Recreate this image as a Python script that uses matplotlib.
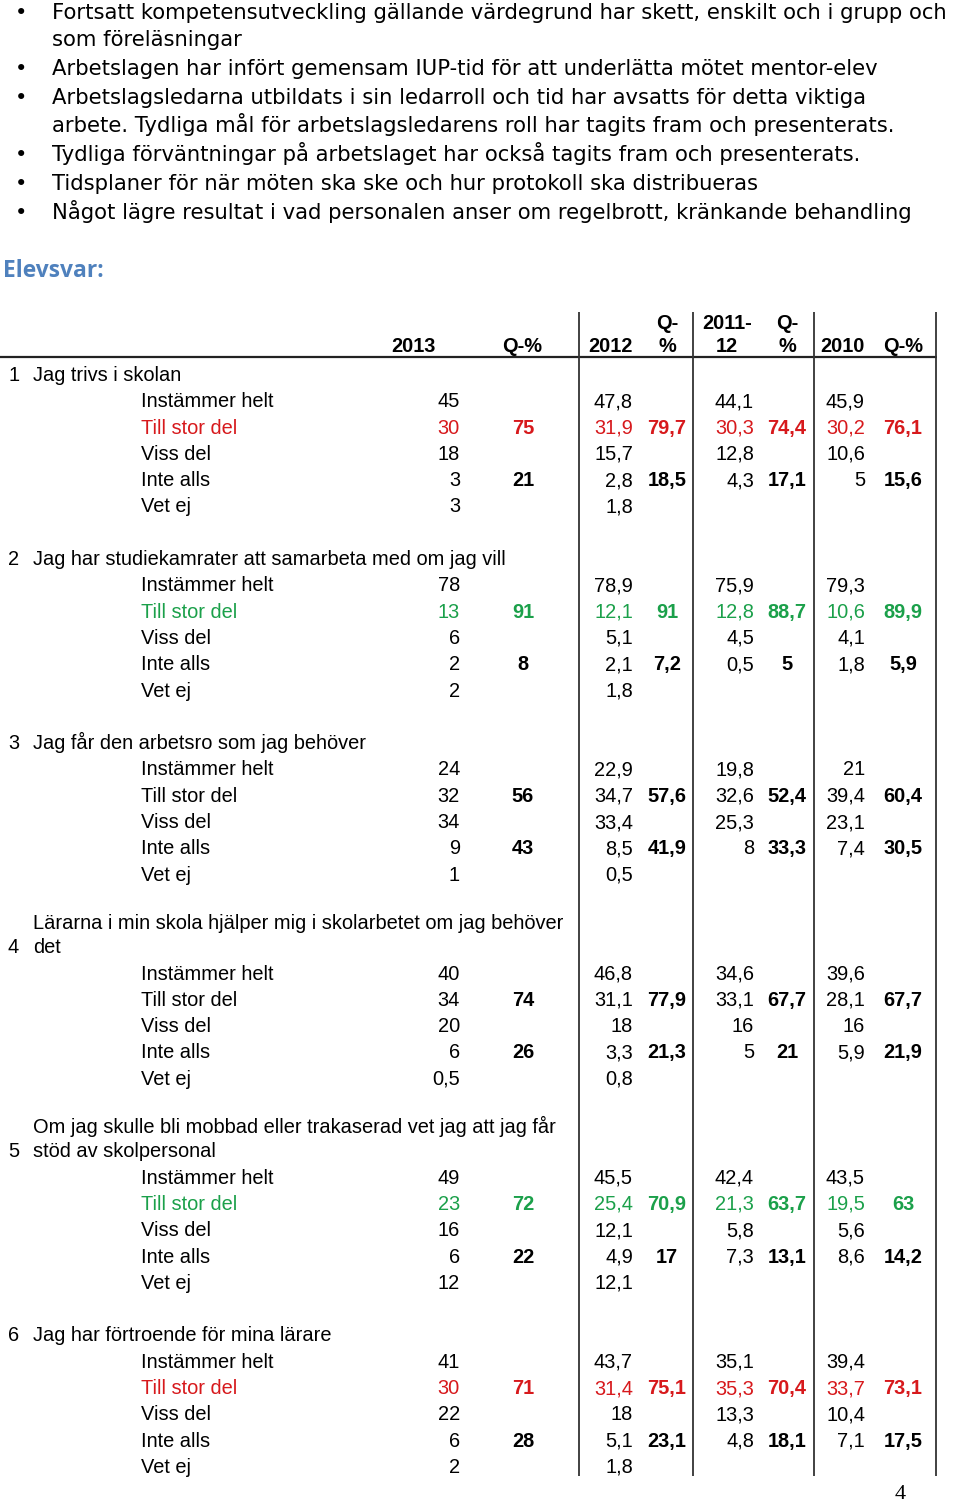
import matplotlib
matplotlib.use("Agg")
import matplotlib.pyplot as plt

# ---------------- data ----------------
bullets = [
    ["Fortsatt kompetensutveckling gällande värdegrund har skett, enskilt och i grupp och",
     "som föreläsningar"],
    ["Arbetslagen har infört gemensam IUP-tid för att underlätta mötet mentor-elev"],
    ["Arbetslagsledarna utbildats i sin ledarroll och tid har avsatts för detta viktiga",
     "arbete. Tydliga mål för arbetslagsledarens roll har tagits fram och presenterats."],
    ["Tydliga förväntningar på arbetslaget har också tagits fram och presenterats."],
    ["Tidsplaner för när möten ska ske och hur protokoll ska distribueras"],
    ["Något lägre resultat i vad personalen anser om regelbrott, kränkande behandling"],
]
section_title = "Elevsvar:"

header_line1 = ["", "", "", "Q-", "2011-", "Q-", "", ""]
header_line2 = ["2013", "Q-%", "2012", "%", "12", "%", "2010", "Q-%"]

answer_labels = ["Instämmer helt", "Till stor del", "Viss del", "Inte alls", "Vet ej"]

questions = [
    ["Jag trivs i skolan"],
    ["Jag har studiekamrater att samarbeta med om jag vill"],
    ["Jag får den arbetsro som jag behöver"],
    ["Lärarna i min skola hjälper mig i skolarbetet om jag behöver", "det"],
    ["Om jag skulle bli mobbad eller trakaserad vet jag att jag får", "stöd av skolpersonal"],
    ["Jag har förtroende för mina lärare"],
]
highlight = ["red", "green", None, None, "green", "red"]

v2013 = [[45, 30, 18, 3, 3], [78, 13, 6, 2, 2], [24, 32, 34, 9, 1],
         [40, 34, 20, 6, 0.5], [49, 23, 16, 6, 12], [41, 30, 22, 6, 2]]
q2013 = [[75, 21], [91, 8], [56, 43], [74, 26], [72, 22], [71, 28]]
v2012 = [[47.8, 31.9, 15.7, 2.8, 1.8], [78.9, 12.1, 5.1, 2.1, 1.8],
         [22.9, 34.7, 33.4, 8.5, 0.5], [46.8, 31.1, 18, 3.3, 0.8],
         [45.5, 25.4, 12.1, 4.9, 12.1], [43.7, 31.4, 18, 5.1, 1.8]]
q2012 = [[79.7, 18.5], [91, 7.2], [57.6, 41.9], [77.9, 21.3], [70.9, 17], [75.1, 23.1]]
v2011 = [[44.1, 30.3, 12.8, 4.3, None], [75.9, 12.8, 4.5, 0.5, None],
         [19.8, 32.6, 25.3, 8, None], [34.6, 33.1, 16, 5, None],
         [42.4, 21.3, 5.8, 7.3, None], [35.1, 35.3, 13.3, 4.8, None]]
q2011 = [[74.4, 17.1], [88.7, 5], [52.4, 33.3], [67.7, 21], [63.7, 13.1], [70.4, 18.1]]
v2010 = [[45.9, 30.2, 10.6, 5, None], [79.3, 10.6, 4.1, 1.8, None],
         [21, 39.4, 23.1, 7.4, None], [39.6, 28.1, 16, 5.9, None],
         [43.5, 19.5, 5.6, 8.6, None], [39.4, 33.7, 10.4, 7.1, None]]
q2010 = [[76.1, 15.6], [89.9, 5.9], [60.4, 30.5], [67.7, 21.9], [63, 14.2], [73.1, 17.5]]
page_number = "4"

# ---------------- styling / layout ----------------
W, H = 960, 1503
DPI = 100
RED = "#d7191c"
GREEN = "#1ba04a"
BLUE = "#4f81bd"
colors = {"red": RED, "green": GREEN, None: "black"}
TABLE_FONT = "Liberation Sans"
TFS = 14.4  # 20 px
BODY_FONT = "DejaVu Sans"
BFS = 15.2


def fmt(v):
    if v is None:
        return ""
    return f"{v:g}".replace(".", ",")


fig = plt.figure(figsize=(W / DPI, H / DPI), dpi=DPI)
ax = fig.add_axes([0, 0, 1, 1])
ax.set_xlim(0, W)
ax.set_ylim(H, 0)
ax.axis("off")

bullet_y = [12, 39, 68, 97, 125, 154, 183, 212]
k = 0
for item in bullets:
    for j, line in enumerate(item):
        y = bullet_y[k] + 7
        if j == 0:
            ax.text(15, y, "•", fontsize=BFS, family=BODY_FONT, va="baseline")
        ax.text(52, y, line, fontsize=BFS, family=BODY_FONT, va="baseline")
        k += 1

ax.text(3, 277, section_title, fontsize=16.4, family="Open Sans", weight="bold",
        color=BLUE, va="baseline")

# table header
hdr_x = [413, 522, 610, 667, 727, 787, 842, 903]
for x, l1, l2 in zip(hdr_x, header_line1, header_line2):
    if l1:
        ax.text(x, 329, l1, fontsize=TFS, family=TABLE_FONT, weight="bold",
                ha="center", va="baseline")
    ax.text(x, 352, l2, fontsize=TFS, family=TABLE_FONT, weight="bold",
            ha="center", va="baseline")

# grid lines
ax.plot([0, 937], [357, 357], color="#222222", lw=1.6, solid_capstyle="butt")
for x in [579, 693, 814, 936]:
    ax.plot([x, x], [312, 1476], color="#333333", lw=1.3, solid_capstyle="butt")

# table body
val_cols = [(v2013, 460), (v2012, 633), (v2011, 754), (v2010, 865)]
q_cols = [(q2013, 523), (q2012, 667), (q2011, 787), (q2010, 903)]
ROW = 26.3
y = 374.0
for qi, title in enumerate(questions):
    if len(title) == 2:
        ax.text(33, y - 4 + 7, title[0], fontsize=TFS, family=TABLE_FONT, va="baseline")
        ax.text(33, y + 20 + 7, title[1], fontsize=TFS, family=TABLE_FONT, va="baseline")
        ax.text(8, y + 20 + 7, str(qi + 1), fontsize=TFS, family=TABLE_FONT, va="baseline")
        y += 20
    else:
        ax.text(33, y + 7, title[0], fontsize=TFS, family=TABLE_FONT, va="baseline")
        ax.text(8, y + 7, str(qi + 1), fontsize=TFS, family=TABLE_FONT, va="baseline")
    for ri, lab in enumerate(answer_labels):
        y += ROW
        c = colors[highlight[qi]] if ri == 1 else "black"
        ax.text(141, y + 7, lab, fontsize=TFS, family=TABLE_FONT, va="baseline", color=c)
        for arr, x in val_cols:
            ax.text(x, y + 7, fmt(arr[qi][ri]), fontsize=TFS, family=TABLE_FONT,
                    ha="right", va="baseline", color=c)
        if ri in (1, 3):
            idx = 0 if ri == 1 else 1
            for arr, x in q_cols:
                ax.text(x, y + 7, fmt(arr[qi][idx]), fontsize=TFS, family=TABLE_FONT,
                        weight="bold", ha="center", va="baseline", color=c)
    y += 2 * ROW

ax.text(900, 1499, page_number, fontsize=16, family="Liberation Serif",
        ha="center", va="baseline")

fig.savefig("out.png", dpi=DPI)
